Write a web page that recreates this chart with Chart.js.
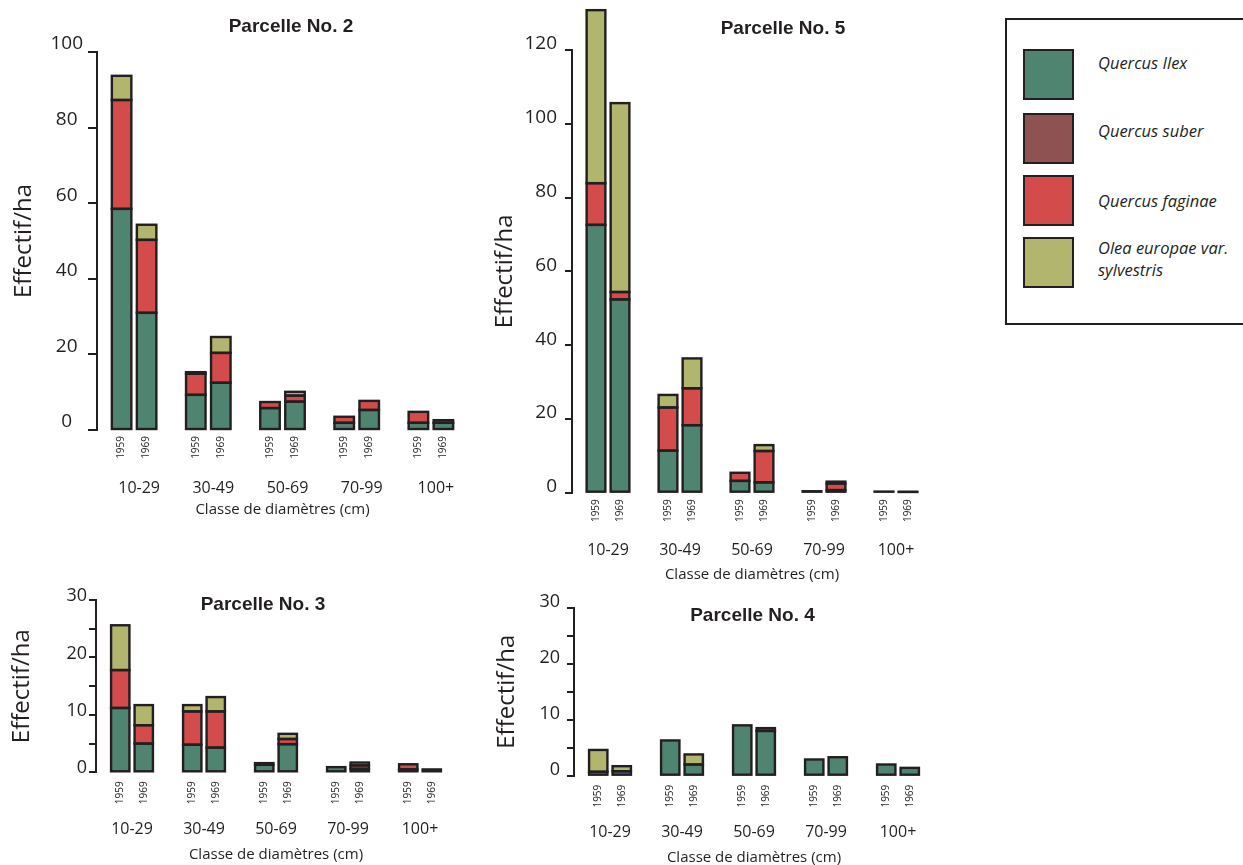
<!DOCTYPE html>
<html>
<head>
<meta charset="utf-8">
<title>Effectif/ha par classe de diamètres</title>
<script src="https://cdn.jsdelivr.net/npm/chart.js@4.4.1/dist/chart.umd.min.js"></script>
<style>
  body { margin: 0; background: #fff; overflow: hidden; width: 1243px; height: 865px; position: relative; }
  canvas { position: absolute; }
  #legend { position: absolute; left: 1005px; top: 18px; width: 260px; height: 303px; border: 2px solid #231f20; background: #fff; z-index: 2;
            font-family: "Open Sans", sans-serif; font-style: italic; font-size: 16.5px; line-height: 22px; color: #231f20; }
  #legend .sq { position: absolute; left: 16px; width: 47px; height: 47px; border: 2px solid #231f20; }
  #legend .tx { position: absolute; left: 91px; }
</style>
</head>
<body>
<div id="legend"></div>
<script>
const classes = ['10-29', '30-49', '50-69', '70-99', '100+'];
const years = ['1959', '1969'];
const species = ['Quercus Ilex', 'Quercus suber', 'Quercus faginae', 'Olea europae var.\nsylvestris'];
const colors = ['#4f8570', '#8f5252', '#d44b4b', '#b2b56e'];
const yTitle = 'Effectif/ha';
const xTitle = 'Classe de diamètres (cm)';

// values per class, 1959 then 1969
// Parcelle No. 2
const p2Ilex    = [58.5, 31.0, 9.3, 12.5, 5.8, 7.5, 1.9, 5.3, 1.9, 1.9];
const p2Suber   = [0, 0, 0, 0, 0, 0, 0, 0, 0, 0];
const p2Faginae = [28.8, 19.3, 5.6, 7.9, 1.6, 1.6, 1.6, 2.4, 2.9, 0.7];
const p2Olea    = [6.4, 4.0, 0.4, 4.2, 0, 1.0, 0, 0, 0, 0];
// Parcelle No. 5
const p5Ilex    = [72.6, 52.4, 11.4, 18.3, 3.2, 2.8, 0.4, 0.7, 0.3, 0.2];
const p5Suber   = [0, 0, 0, 0, 0, 0, 0, 0, 0, 0];
const p5Faginae = [11.3, 2.0, 11.7, 10.0, 2.2, 8.5, 0, 1.8, 0, 0];
const p5Olea    = [46.9, 51.2, 3.4, 8.1, 0, 1.6, 0, 0.5, 0, 0];
// Parcelle No. 3
const p3Ilex    = [11.2, 5.0, 4.8, 4.3, 1.3, 4.9, 0.9, 0.6, 0.5, 0.5];
const p3Suber   = [0, 0, 0, 0, 0, 0, 0, 0, 0, 0];
const p3Faginae = [6.6, 3.2, 5.8, 6.3, 0, 0.9, 0, 0.6, 0.9, 0];
const p3Olea    = [7.8, 3.5, 1.1, 2.5, 0.3, 0.9, 0, 0.5, 0, 0];
// Parcelle No. 4
const p4Ilex    = [0.7, 0.8, 6.3, 2.0, 9.0, 8.0, 2.9, 3.3, 2.0, 1.4];
const p4Suber   = [0, 0, 0, 0, 0, 0.5, 0, 0, 0, 0];
const p4Faginae = [0, 0, 0, 0, 0, 0, 0, 0, 0, 0];
const p4Olea    = [3.9, 0.9, 0, 1.8, 0, 0, 0, 0, 0, 0];

const ink = '#231f20';
const sans = '"Open Sans", sans-serif';

// legend box
const legend = document.getElementById('legend');
const sqTops = [29, 93, 155, 217];
const txTops = [32, 100, 170, 217];
species.forEach((name, i) => {
    const sq = document.createElement('div');
    sq.className = 'sq';
    sq.style.top = sqTops[i] + 'px';
    sq.style.background = colors[i];
    legend.appendChild(sq);
    const tx = document.createElement('div');
    tx.className = 'tx';
    tx.style.top = txTops[i] + 'px';
    tx.innerHTML = name.replace('\n', '<br>');
    legend.appendChild(tx);
});

function split(vals, k) {
    return classes.map((c, i) => vals[i * 2 + k] || null);
}

// outline every stacked segment with a stroke centred on its edges
const barOutlines = {
    id: 'barOutlines',
    afterDatasetsDraw(chart) {
        const ctx = chart.ctx;
        ctx.save();
        ctx.strokeStyle = ink;
        ctx.lineWidth = 2.4;
        chart.data.datasets.forEach((ds, i) => {
            const meta = chart.getDatasetMeta(i);
            meta.data.forEach((bar, j) => {
                if (ds.data[j] === null) return;
                const top = Math.min(bar.y, bar.base);
                ctx.strokeRect(bar.x - bar.width / 2, top, bar.width, Math.abs(bar.base - bar.y));
            });
        });
        ctx.restore();
    }
};

// small rotated year under each bar
const yearLabels = {
    id: 'yearLabels',
    afterDatasetsDraw(chart, args, opts) {
        const ctx = chart.ctx;
        const bottom = chart.chartArea.bottom;
        ctx.save();
        ctx.font = '10px ' + sans;
        ctx.fillStyle = ink;
        ctx.textAlign = 'right';
        ctx.textBaseline = 'middle';
        years.forEach((yr, k) => {
            chart.getDatasetMeta(k * species.length).data.forEach(bar => {
                ctx.save();
                ctx.translate(bar.x, bottom + opts.gap);
                ctx.rotate(-Math.PI / 2);
                ctx.fillText(yr, 0, 0);
                ctx.restore();
            });
        });
        ctx.restore();
    }
};

function drawPanel(g, title, ilex, suber, faginae, olea) {
    const canvas = document.createElement('canvas');
    canvas.width = g.w;
    canvas.height = g.h;
    canvas.style.left = g.x + 'px';
    canvas.style.top = g.y + 'px';
    document.body.insertBefore(canvas, legend);

    const series = [ilex, suber, faginae, olea];
    const datasets = [];
    years.forEach((yr, k) => {
        series.forEach((vals, s) => {
            datasets.push({
                label: species[s] + ' ' + yr,
                stack: yr,
                data: split(vals, k),
                backgroundColor: colors[s],
                borderWidth: 0,
                inflateAmount: 0,
                categoryPercentage: g.cat,
                barPercentage: 0.78,
                clip: false
            });
        });
    });

    const titleLh = 19 * 1.2;
    const titleTop = g.titleY - g.y - titleLh / 2;

    new Chart(canvas, {
        type: 'bar',
        data: { labels: classes, datasets: datasets },
        options: {
            responsive: false,
            animation: false,
            events: [],
            plugins: {
                legend: { display: false },
                tooltip: { enabled: false },
                title: {
                    display: true,
                    text: title,
                    color: ink,
                    font: { family: '"Liberation Sans", Arial, sans-serif', size: 19, weight: 'bold' },
                    padding: { top: titleTop, bottom: (g.top - g.y) - titleTop - titleLh }
                },
                yearLabels: { gap: g.gap }
            },
            scales: {
                x: {
                    stacked: true,
                    grid: { display: false, drawTicks: false },
                    border: { display: false },
                    ticks: {
                        color: ink,
                        font: { family: sans, size: 16 },
                        padding: g.xLabelY - g.bottom - 16 * 1.2 / 2,
                        labelOffset: g.xOffset,
                        maxRotation: 0,
                        autoSkip: false
                    },
                    title: {
                        display: true,
                        text: xTitle,
                        color: ink,
                        font: { family: sans, size: 15 },
                        padding: { top: 0, bottom: g.y + g.h - g.xTitleY - 15 * 1.2 / 2 }
                    },
                    afterFit: s => { s.height = g.y + g.h - g.bottom; }
                },
                y: {
                    stacked: true,
                    min: 0,
                    max: g.max,
                    border: { display: true, color: ink, width: 2 },
                    grid: { drawOnChartArea: false, drawTicks: true, tickLength: g.tick, color: ink, lineWidth: 2 },
                    ticks: {
                        stepSize: g.step,
                        color: ink,
                        font: { family: sans, size: g.fontSize },
                        padding: g.pad,
                        crossAlign: g.align,
                        labelOffset: g.offset,
                        callback: v => (v % 10 === 0 ? v : '')
                    },
                    title: {
                        display: true,
                        text: yTitle,
                        color: ink,
                        font: { family: sans, size: 24 },
                        padding: { top: g.yTitleX - g.x - 24 * 1.2 / 2, bottom: 0 }
                    },
                    afterFit: s => { s.width = g.left - g.x; }
                },
                y2: {
                    position: 'right',
                    grid: { display: false, drawTicks: false },
                    border: { display: false },
                    ticks: { display: false },
                    afterFit: s => { s.width = g.x + g.w - g.right; }
                }
            }
        },
        plugins: [barOutlines, yearLabels]
    });
}

drawPanel({ x: 0, y: 0, w: 582, h: 530, left: 97, right: 468, top: 52, bottom: 430, max: 100, step: 20,
            titleY: 27, yTitleX: 24, xLabelY: 488, xTitleY: 510, xOffset: 5, gap: 6, tick: 9,
            align: 'center', pad: 5, offset: -8, fontSize: 19, cat: 0.674 },
          'Parcelle No. 2', p2Ilex, p2Suber, p2Faginae, p2Olea);

drawPanel({ x: 485, y: 0, w: 596, h: 595, left: 572, right: 932, top: 50, bottom: 492.7, max: 120, step: 20,
            titleY: 28.3, yTitleX: 505, xLabelY: 550, xTitleY: 575, xOffset: 0, gap: 6.5, tick: 7,
            align: 'near', pad: 8, offset: -6, fontSize: 19, cat: 0.667 },
          'Parcelle No. 5', p5Ilex, p5Suber, p5Faginae, p5Olea);

drawPanel({ x: 0, y: 585, w: 526, h: 285, left: 96, right: 456, top: 600, bottom: 772.3, max: 30, step: 5,
            titleY: 604.5, yTitleX: 22, xLabelY: 829, xTitleY: 855, xOffset: 0, gap: 9, tick: 7,
            align: 'near', pad: 2, offset: -4, fontSize: 18, cat: 0.653 },
          'Parcelle No. 3', p3Ilex, p3Suber, p3Faginae, p3Olea);

drawPanel({ x: 485, y: 590, w: 535, h: 280, left: 574, right: 934, top: 603.3, bottom: 775.7, max: 30, step: 5,
            titleY: 611.5, yTitleX: 507.5, xLabelY: 832.7, xTitleY: 858, xOffset: 0, gap: 9, tick: 7,
            align: 'near', pad: 7, offset: -6, fontSize: 18, cat: 0.653 },
          'Parcelle No. 4', p4Ilex, p4Suber, p4Faginae, p4Olea);
</script>
</body>
</html>
